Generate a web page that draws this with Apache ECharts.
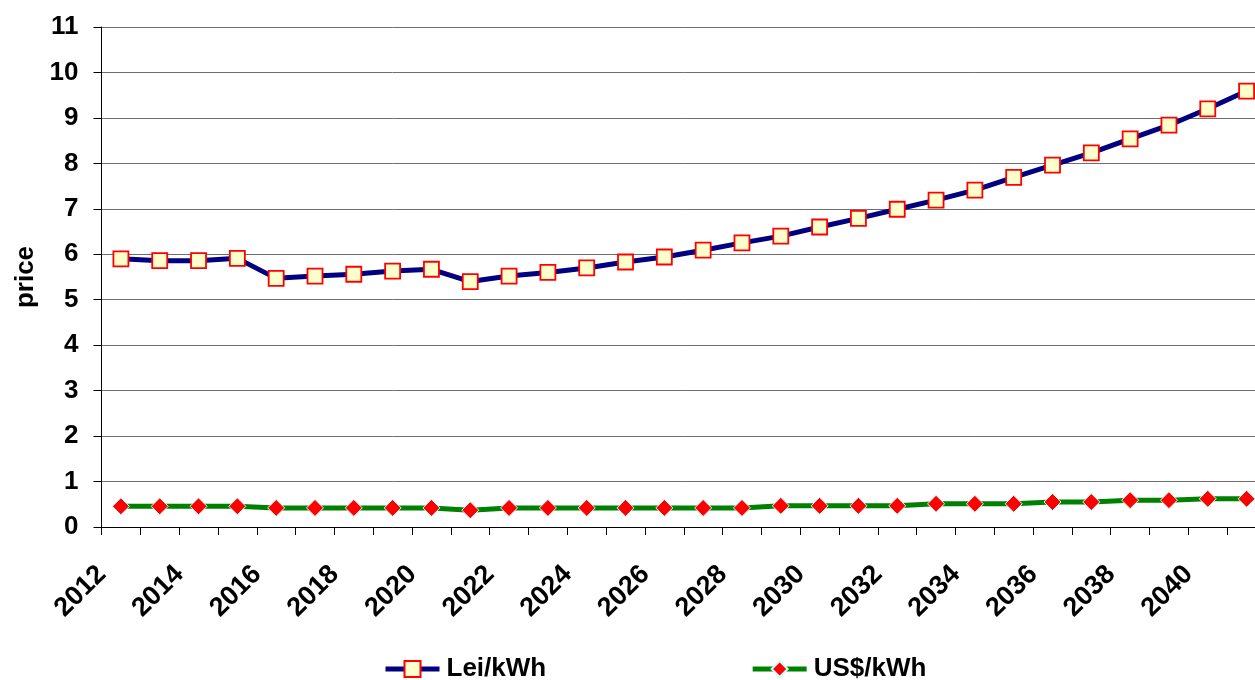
<!DOCTYPE html>
<html>
<head>
<meta charset="utf-8">
<script src="https://cdn.jsdelivr.net/npm/echarts@6/dist/echarts.min.js"></script>
<style>
  html, body { margin: 0; padding: 0; background: #fff; overflow: hidden; }
  #main { width: 1266px; height: 680px; }
</style>
</head>
<body>
<div id="main"></div>
<script>
  var years = [];
  for (var y = 2012; y <= 2041; y++) years.push(String(y));

  var leiKwh = [5.90, 5.86, 5.86, 5.91, 5.47, 5.52, 5.56, 5.63, 5.67, 5.40,
                5.52, 5.60, 5.70, 5.83, 5.94, 6.09, 6.25, 6.40, 6.60, 6.79,
                6.99, 7.19, 7.41, 7.69, 7.96, 8.23, 8.54, 8.84, 9.20, 9.59];
  var usdKwh = [0.455, 0.455, 0.455, 0.455, 0.42, 0.42, 0.42, 0.42, 0.42, 0.37,
                0.42, 0.42, 0.42, 0.42, 0.42, 0.42, 0.42, 0.465, 0.465, 0.465,
                0.465, 0.51, 0.51, 0.51, 0.55, 0.55, 0.59, 0.59, 0.62, 0.62];

  var font = '"Liberation Sans", Arial, sans-serif';

  var option = {
      animation: false,
      backgroundColor: '#fff',
      textStyle: { fontFamily: font },
      grid: {
          left: 101.5,
          top: 27,
          bottom: 153,
          right: 0,
          containLabel: false
      },
      legend: {
          left: 383,
          top: 656,
          padding: 0,
          itemWidth: 54,
          itemHeight: 20,
          itemGap: 204,
          textStyle: { fontFamily: font, fontSize: 26, fontWeight: 'bold', color: '#000', padding: [0, 0, 0, 2] },
          data: [
              { name: 'Lei/kWh', lineStyle: { width: 5 } },
              { name: 'US$/kWh', lineStyle: { width: 5 } }
          ]
      },
      xAxis: {
          type: 'category',
          data: years,
          boundaryGap: true,
          axisLine: { lineStyle: { color: '#000', width: 1 } },
          axisTick: { show: true, interval: 0, length: 8, lineStyle: { color: '#000' } },
          axisLabel: {
              interval: 1,
              rotate: 45,
              margin: 24,
              padding: [0, 27, 0, 0],
              fontFamily: font,
              fontSize: 27,
              fontWeight: 'bold',
              color: '#000'
          },
          splitLine: { show: false }
      },
      yAxis: {
          type: 'value',
          min: 0,
          max: 11,
          interval: 1,
          name: 'price',
          nameLocation: 'middle',
          nameGap: 62,
          nameTextStyle: { fontFamily: font, fontSize: 26, fontWeight: 'bold', color: '#000' },
          axisLine: { show: true, lineStyle: { color: '#000', width: 1 } },
          axisTick: { show: true, length: 8, lineStyle: { color: '#000' } },
          axisLabel: {
              margin: 23,
              fontFamily: font,
              fontSize: 26,
              fontWeight: 'bold',
              color: '#000'
          },
          splitLine: { show: true, lineStyle: { color: '#6e6e6e', width: 1 } }
      },
      series: [
          {
              name: 'Lei/kWh',
              type: 'line',
              data: leiKwh,
              symbol: 'rect',
              symbolSize: 15,
              lineStyle: { color: '#000080', width: 5 },
              itemStyle: { color: '#ffffcc', borderColor: '#ff0000', borderWidth: 1.8 },
              z: 3
          },
          {
              name: 'US$/kWh',
              type: 'line',
              data: usdKwh,
              symbol: 'diamond',
              symbolSize: 17,
              lineStyle: { color: '#008000', width: 5 },
              itemStyle: { color: '#ff0000', borderColor: '#ccffff', borderWidth: 1 },
              z: 2
          }
      ]
  };

  var myChart = echarts.init(document.getElementById('main'), null, { renderer: 'canvas' });
  myChart.setOption(option);
</script>
</body>
</html>
